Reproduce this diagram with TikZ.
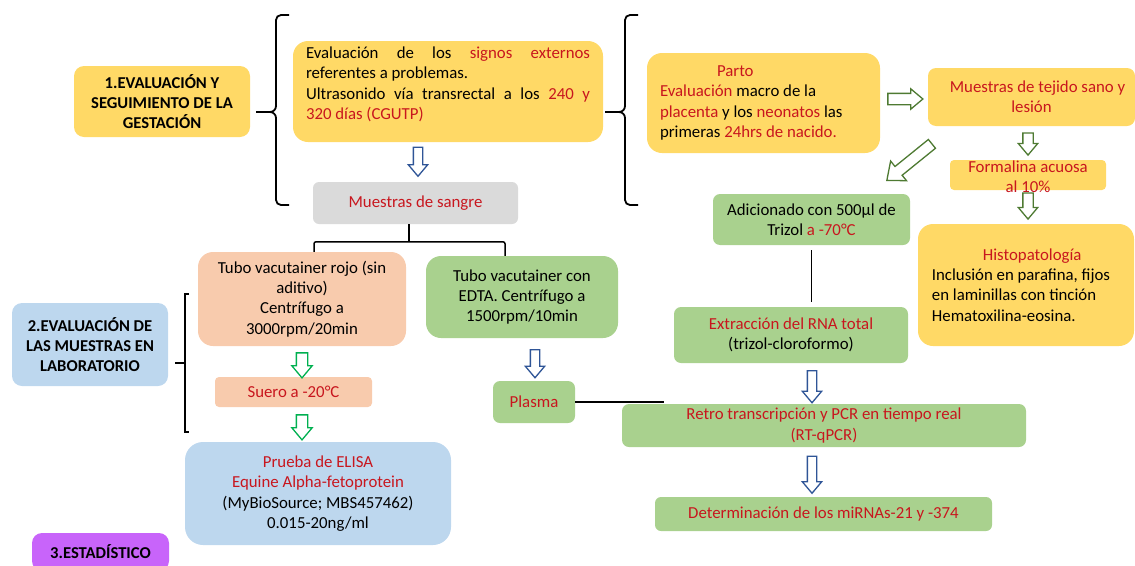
\documentclass[tikz,border=0pt]{standalone}
\usepackage{fontspec}
\setmainfont{Carlito}
\usetikzlibrary{shapes.arrows,calc}
\definecolor{yel}{HTML}{FFD966}
\definecolor{grn}{HTML}{A9D18E}
\definecolor{pch}{HTML}{F8CBAD}
\definecolor{lbl}{HTML}{BDD7EE}
\definecolor{gry}{HTML}{DADADA}
\definecolor{prp}{HTML}{C864FA}
\definecolor{rtx}{HTML}{C8161E}
\definecolor{barrow}{HTML}{2F5597}
\definecolor{darrow}{HTML}{4E7A32}
\definecolor{garrow}{HTML}{00B050}
\newcommand{\R}[1]{\textcolor{rtx}{#1}}
\begin{document}
\begin{tikzpicture}[x=1pt,y=-1pt,
  every node/.style={font=\fontsize{16.8}{20.3}\selectfont, inner sep=0pt},
  box/.style={rounded corners=10pt, align=center},
  head/.style={box, font=\fontsize{16.6}{20}\selectfont\bfseries},
  hollow/.style n args={3}{single arrow, draw=#1, fill=white, line width=1.3pt,
     inner xsep=0pt, inner ysep=#2, single arrow head extend=#3,
     minimum width=0pt, single arrow tip angle=80},
  brace/.style={draw=black, line width=1.8pt},
  thin/.style={draw=black, line width=1.5pt}]
\useasboundingbox (0,0) rectangle (1135,565);

% ---- headers
\node[head, fill=yel, minimum width=176, minimum height=71] (g1) at (162,101.5)
  {1.EVALUACIÓN Y\\SEGUIMIENTO DE LA\\GESTACIÓN};
\node[head, fill=lbl, minimum width=156, minimum height=83] (g2) at (90,344.5)
  {2.EVALUACIÓN DE\\LAS MUESTRAS EN\\LABORATORIO};
\node[head, fill=prp, minimum width=137, minimum height=38] (g3) at (100.5,552)
  {3.ESTADÍSTICO};

% ---- gestation part
\node[box, fill=yel, rounded corners=15pt, minimum width=310, minimum height=101] (ev) at (448,91.5) {};
\node[anchor=north, text width=284, align=justify] (evt) at ($(ev.north)+(0,6)$)
  {\hyphenpenalty=10000 Evaluación de los \R{signos externos}\linebreak referentes a problemas.\\
   Ultrasonido vía transrectal a los \R{240 y}\linebreak \R{320 días (CGUTP)}};
\node[box, fill=gry, rounded corners=6pt, minimum width=205, minimum height=42] (sangre) at (415.5,203)
  {\R{Muestras de sangre}};

\node[box, fill=yel, rounded corners=15pt, minimum width=233, minimum height=100,
      text width=207, align=flush left] (parto) at (763.5,103)
  {\hspace*{57pt}\R{Parto}\\
   \R{Evaluación} macro de la\\
   \R{placenta} y los \R{neonatos} las\\
   primeras \R{24hrs de nacido.}};
\node[box, fill=yel, rounded corners=8pt, minimum width=207, minimum height=58] (tejido) at (1031.5,97)
  {\hspace*{12pt}\R{Muestras de tejido sano y}\\\R{lesión}};
\node[box, fill=yel, rounded corners=4pt, minimum width=156, minimum height=30] (form) at (1028,175) {};
\node[align=center] (formt) at (1028,176.5) {\R{Formalina acuosa}\\\R{al 10\%}};
\node[box, fill=yel, rounded corners=15pt, minimum width=216, minimum height=122,
      align=flush left] (histo) at (1026,285)
  {\hspace*{51pt}\R{Histopatología}\\
   Inclusión en parafina, fijos\kern10pt\\
   en laminillas con tinción\\
   Hematoxilina-eosina.};

\node[box, fill=grn, rounded corners=7pt, minimum width=197, minimum height=51] (adic) at (811.5,219.5)
  {Adicionado con 500µl de\\Trizol \R{a -70°C}};
\node[box, fill=grn, rounded corners=7pt, minimum width=234, minimum height=56] (extr) at (791,335)
  {\R{Extracción del RNA total}\\(trizol-cloroformo)};
\node[box, fill=grn, rounded corners=7pt, minimum width=404, minimum height=43] (retro) at (824,425.5)
  {\R{Retro transcripción y PCR en tiempo real}\\\R{(RT-qPCR)}};
\node[box, fill=grn, rounded corners=6pt, minimum width=337, minimum height=34] (det) at (823.5,514)
  {\R{Determinación de los miRNAs-21 y -374}};

% ---- laboratory part
\node[box, fill=pch, rounded corners=15pt, minimum width=208, minimum height=94] (rojo) at (302,299)
  {Tubo vacutainer rojo (sin\\aditivo)\\Centrífugo a\\3000rpm/20min};
\node[box, fill=grn, rounded corners=15pt, minimum width=192, minimum height=82] (edta) at (522,297)
  {Tubo vacutainer con\\EDTA. Centrífugo a\\1500rpm/10min};
\node[box, fill=pch, rounded corners=4pt, minimum width=157, minimum height=30] (suero) at (293.5,392)
  {\R{Suero a -20°C}};
\node[box, fill=grn, rounded corners=7pt, minimum width=82, minimum height=42] (plasma) at (534,402)
  {\R{Plasma}};
\node[box, fill=lbl, rounded corners=18pt, minimum width=266, minimum height=103] (elisa) at (318,493.5)
  {\R{Prueba de ELISA}\\\R{Equine Alpha-fetoprotein}\\(MyBioSource; MBS457462)\\0.015-20ng/ml};

% ---- braces
\draw[brace] (289,15) -- (281,15) to[out=180,in=90] (276,20) -- (276,106)
   to[out=270,in=0] (270,112) -- (256,112);
\draw[brace] (270,112) to[out=0,in=90] (276,118) -- (276,200)
   to[out=270,in=180] (281,205) -- (289,205);
\draw[brace] (638,15) -- (630,15) to[out=180,in=90] (625,20) -- (625,106)
   to[out=270,in=0] (619,112) -- (605,112);
\draw[brace] (619,112) to[out=0,in=90] (625,118) -- (625,200)
   to[out=270,in=180] (630,205) -- (638,205);
\draw[thin] (189,294) -- (185,294) -- (185,432) -- (189,432);
\draw[thin] (175,363) -- (185,363);

% ---- connectors
\coordinate (bj) at (409,242);
\draw[thin] (sangre.south -| bj) -- (bj);
\draw[thin, rounded corners=2pt] ($(rojo.north)+(12,0)$) -- ($(rojo.north)+(12,-10)$) -| ($(edta.north)+(-17,0)$);
\draw[thin] ($(adic.south)+(0,5)$) -- ($(extr.north)+(20.5,-5)$);
\coordinate (pl) at (664,402);
\draw[thin] (plasma.east) -- (pl);

% ---- block arrows
\node[hollow={barrow}{4pt}{5pt}, rotate=-90, minimum height=29] (a1) at (418,159) {};
\node[hollow={barrow}{4pt}{5pt}, rotate=-90, minimum height=28] (a2) at (535,361) {};
\node[hollow={barrow}{4pt}{5pt}, rotate=-90, minimum height=32] (a3) at (812,384) {};
\node[hollow={barrow}{4pt}{5pt}, rotate=-90, minimum height=37] (a4) at (812,472) {};
\node[hollow={darrow}{5pt}{4.5pt}, minimum height=35] (a5) at (902,99) {};
\node[hollow={darrow}{4.5pt}{4.5pt}, rotate=-90, minimum height=22] (a6) at (1028,141) {};
\node[hollow={darrow}{4.5pt}{4.5pt}, rotate=-90, minimum height=26] (a7) at (1028,203) {};
\node[hollow={darrow}{5pt}{7pt}, rotate=219, minimum height=58] (a8) at (912,160) {};
\node[hollow={garrow}{5pt}{4.5pt}, rotate=-90, minimum height=25] (a9) at (302,362) {};
\node[hollow={garrow}{5pt}{4.5pt}, rotate=-90, minimum height=25] (a10) at (302,424) {};
\end{tikzpicture}
\end{document}
